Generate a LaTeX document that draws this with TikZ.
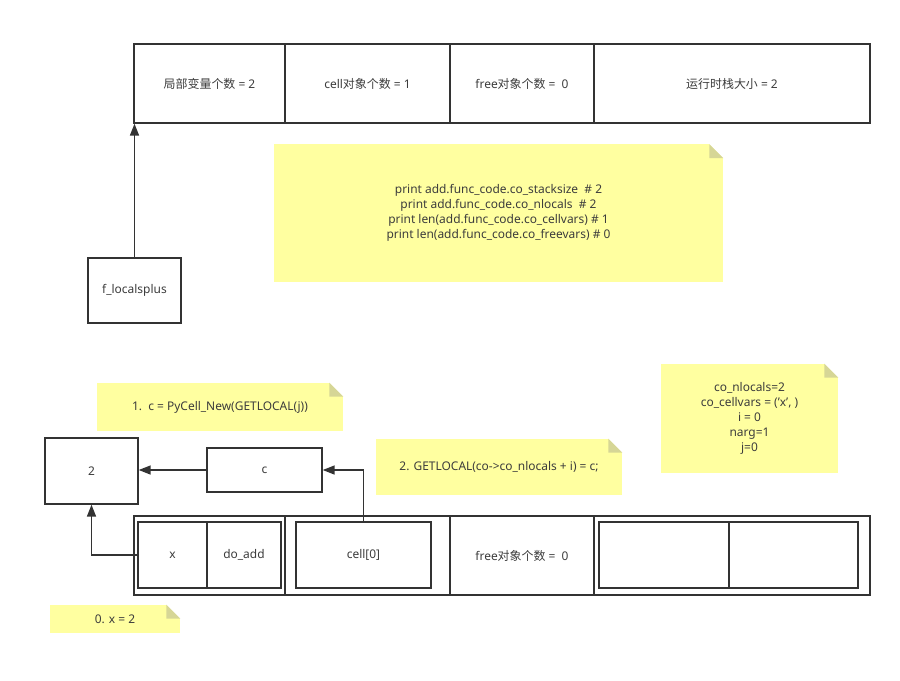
\documentclass[tikz,border=0pt]{standalone}
\usepackage{fontspec}
\setmainfont{Noto Sans}
\newfontfamily\cjk{Noto Sans CJK SC}
\usetikzlibrary{arrows.meta}
\definecolor{linegray}{RGB}{51,51,51}
\definecolor{textgray}{RGB}{60,60,60}
\definecolor{noteyellow}{RGB}{255,255,160}
\definecolor{notefold}{RGB}{214,214,150}

\begin{document}
\begin{tikzpicture}[x=0.025cm,y=-0.025cm,
  every node/.style={font=\fontsize{8.5}{10.7}\selectfont, text=textgray, inner sep=0pt},
  cell/.style={draw=linegray, line width=1pt},
  inbox/.style={draw=linegray, line width=1.3pt},
  note/.style={fill=noteyellow, align=center},
  wh/.style 2 args={minimum width=#1cm, minimum height=#2cm},
  arrow/.style={draw=linegray, line width=1.1pt, -{Triangle[length=8.5pt,width=6.4pt]}}]

\fill[white] (0,0) rectangle (900,680);
\useasboundingbox (0,0) rectangle (900,680);

\node[note, wh={11.225}{3.425}] (n_code) at (498.5,213) {print add.func\_code.co\_stacksize~~\# 2\\print add.func\_code.co\_nlocals~~\# 2\\print len(add.func\_code.co\_cellvars) \# 1\\print len(add.func\_code.co\_freevars) \# 0};
\node[note, wh={6.15}{1.2}] (n_new) at (220,407) {1.~~c = PyCell\_New(GETLOCAL(j))};
\node[note, wh={6.15}{1.4}] (n_get) at (499,467) {2. GETLOCAL(co->co\_nlocals + i) = c;};
\node[note, wh={4.425}{2.725}] (n_vars) at (749.5,418.5) {co\_nlocals=2\\co\_cellvars = ('x', )\\i = 0\\narg=1\\j=0};
\node[note, wh={3.25}{0.7}] (n_x) at (115,619) {0. x = 2};
\foreach \n in {n_code,n_new,n_get,n_vars,n_x} {
  \fill[white] (\n.north east) -- ++(-14,0) -- ++(14,14) -- cycle;
  \fill[notefold] (\n.north east) ++(-14,0) -- ++(0,14) -- ++(14,0) -- cycle;
}

\node[cell, wh={3.775}{1.975}] (t_1) at (209.5,83.5) {{\cjk 局部变量个数} = 2};
\node[cell, wh={4.125}{1.975}] (t_2) at (367.5,83.5) {cell{\cjk 对象个数} = 1};
\node[cell, wh={3.6}{1.975}] (t_3) at (522,83.5) {free{\cjk 对象个数} =~~0};
\node[cell, wh={6.9}{1.975}] (t_4) at (732,83.5) {{\cjk 运行时栈大小} = 2};

\node[cell, wh={2.325}{1.625}] (f_locals) at (134.5,290.5) {f\_localsplus};
\node[cell, wh={2.325}{1.65}] (v_2) at (91.5,471) {2};
\node[cell, wh={2.875}{1.1}] (v_c) at (264.5,470) {c};

\node[cell, wh={3.775}{1.975}] (b_1) at (209.5,555.5) {};
\node[cell, wh={4.125}{1.975}] (b_2) at (367.5,555.5) {};
\node[cell, wh={3.6}{1.975}] (b_3) at (522,555.5) {free{\cjk 对象个数} =~~0};
\node[cell, wh={6.9}{1.975}] (b_4) at (732,555.5) {};
\node[inbox, wh={1.725}{1.65}] (v_x) at (172.5,555) {x};
\node[inbox, wh={1.85}{1.65}] (v_add) at (244,555) {do\_add};
\node[inbox, wh={3.375}{1.65}] (v_cell) at (363.5,555) {cell[0]};
\node[inbox, wh={3.25}{1.65}] (v_e1) at (664,555) {};
\node[inbox, wh={3.225}{1.65}] (v_e2) at (793.5,555) {};

\draw[arrow] (f_locals.north) -- (f_locals.north |- t_1.south);
\draw[arrow] (v_c.west) -- (v_c.west -| v_2.east);
\draw[arrow] (v_cell.north) |- (v_c.east);
\draw[arrow] (v_x.west) -| (v_2.south);

\end{tikzpicture}
\end{document}
